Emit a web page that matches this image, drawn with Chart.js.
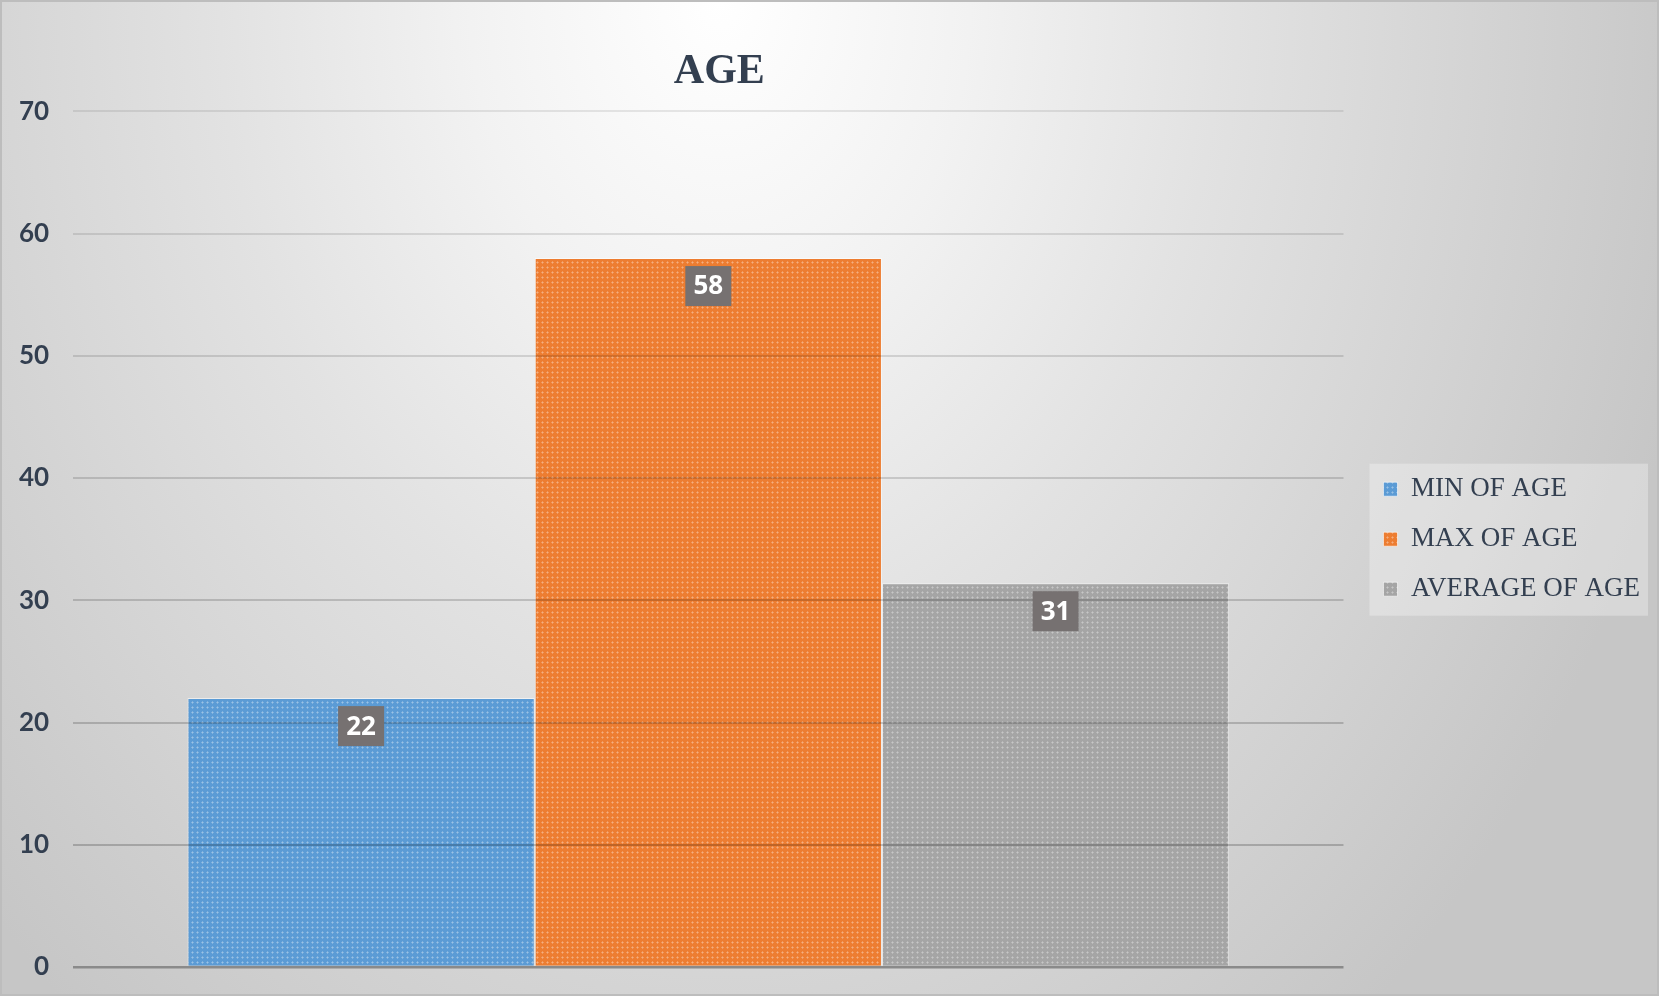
<!DOCTYPE html>
<html>
<head>
<meta charset="utf-8">
<script src="https://cdn.jsdelivr.net/npm/chart.js@4/dist/chart.umd.min.js"></script>
<style>
    html, body { margin: 0; padding: 0; background: #ffffff; }
    canvas { display: block; }
</style>
</head>
<body>
<canvas id="ageChart" width="1659" height="996"></canvas>
<script>
// data
const categories = ["AGE"];
const seriesNames = ["MIN OF AGE", "MAX OF AGE", "AVERAGE OF AGE"];
const minOfAge = [22];
const maxOfAge = [58];
const averageOfAge = [31.4];
const seriesColors = ["#5b9bd5", "#ed7d31", "#a5a5a5"];

const textColor = "#333f50";

// small dotted texture like the office fill
function makePattern(base) {
    const tile = document.createElement("canvas");
    tile.width = 5;
    tile.height = 5;
    const c = tile.getContext("2d");
    c.fillStyle = base;
    c.fillRect(0, 0, 5, 5);
    c.fillStyle = "rgba(255,255,255,0.22)";
    c.fillRect(2, 1, 1, 3);
    c.fillRect(1, 2, 3, 1);
    return c.createPattern(tile, "repeat");
}

// background, frame and legend panel
const backdrop = {
    id: "backdrop",
    beforeDraw(chart) {
        const ctx = chart.ctx;
        const w = chart.width, h = chart.height;
        ctx.save();
        ctx.translate(720, 0);
        ctx.scale(1, 1.33);
        const g = ctx.createRadialGradient(0, 0, 0, 0, 0, 1000);
        g.addColorStop(0, "#ffffff");
        g.addColorStop(0.25, "#f2f2f2");
        g.addColorStop(0.5, "#e2e2e2");
        g.addColorStop(0.75, "#d4d4d4");
        g.addColorStop(1, "#c6c6c6");
        ctx.fillStyle = g;
        ctx.fillRect(-720, 0, w, h / 1.33 + 2);
        ctx.restore();

        ctx.save();
        ctx.strokeStyle = "#bdbdbd";
        ctx.lineWidth = 2;
        ctx.strokeRect(1, 1, w - 2, h - 2);
        ctx.restore();

        const lg = chart.legend;
        if (lg && lg.legendHitBoxes && lg.legendHitBoxes.length) {
            const boxes = lg.legendHitBoxes;
            const first = boxes[0], last = boxes[boxes.length - 1];
            let right = 0;
            boxes.forEach(b => { right = Math.max(right, b.left + b.width); });
            ctx.save();
            ctx.fillStyle = "rgba(255,255,255,0.3)";
            ctx.fillRect(first.left - 14, first.top - 12, right - first.left + 22, last.top + last.height - first.top + 25);
            ctx.restore();
        }
    },
    afterLayout(chart) {
        // leave a gap between plot and legend, centre it on the plot
        const lg = chart.legend;
        lg.left += 17;
        lg.right += 17;
        lg.top = chart.chartArea.top;
        lg.bottom = chart.chartArea.bottom;
        // title sits a little right of the plot centre
        chart.titleBlock.left += 11;
        chart.titleBlock.right += 11;
    }
};

// grey value boxes near the top of each bar
const valueBoxes = {
    id: "valueBoxes",
    afterDraw(chart) {
        const ctx = chart.ctx;
        chart.data.datasets.forEach((ds, i) => {
            const meta = chart.getDatasetMeta(i);
            meta.data.forEach((bar, j) => {
                const txt = String(Math.round(ds.data[j]));
                const cx = bar.x, cy = bar.y + 28;
                ctx.save();
                ctx.fillStyle = "#767171";
                ctx.fillRect(cx - 23, cy - 20, 46, 40);
                ctx.fillStyle = "#ffffff";
                ctx.font = "bold 26px 'Open Sans'";
                ctx.textAlign = "center";
                ctx.textBaseline = "middle";
                ctx.fillText(txt, cx, cy + 1);
                ctx.restore();
            });
        });
    }
};

const seriesData = [minOfAge, maxOfAge, averageOfAge];

new Chart(document.getElementById("ageChart"), {
    type: "bar",
    data: {
        labels: categories,
        datasets: seriesNames.map((name, i) => ({
            label: name,
            data: seriesData[i],
            backgroundColor: makePattern(seriesColors[i]),
            borderColor: "rgba(255,255,255,0.55)",
            borderWidth: 1,
            categoryPercentage: 0.82,
            barPercentage: 1.0,
        })),
    },
    options: {
        responsive: false,
        animation: false,
        devicePixelRatio: 1,
        layout: {
            padding: { top: 10, left: -5, right: 26, bottom: 29 },
        },
        scales: {
            x: {
                display: false,
            },
            y: {
                min: 0,
                max: 70,
                border: { display: false },
                // tick padding is only meant sideways here
                afterFit(scale) {
                    scale.paddingTop = 15;
                    scale.paddingBottom = 15;
                },
                grid: {
                    z: 1,
                    drawTicks: false,
                    lineWidth: (c) => (c.tick && c.tick.value === 0 ? 2.5 : 2),
                    color: (c) => {
                        const v = c.tick ? c.tick.value : 0;
                        if (v === 0) return "#8a8a8a";
                        return "rgba(0,0,0," + (0.22 - v * 0.0019).toFixed(3) + ")";
                    },
                },
                ticks: {
                    stepSize: 10,
                    padding: 24,
                    color: textColor,
                    font: { family: "Lato", size: 26, weight: "bold" },
                },
            },
        },
        plugins: {
            legend: {
                position: "right",
                labels: {
                    boxWidth: 14,
                    boxHeight: 14,
                    padding: 23,
                    color: textColor,
                    font: { family: "'Liberation Serif'", size: 27 },
                },
            },
            title: {
                display: true,
                text: "AGE",
                fullSize: false,
                color: textColor,
                font: { family: "'Liberation Serif'", size: 42, weight: "bold" },
                padding: { top: 37, bottom: 14 },
            },
            tooltip: { enabled: false },
        },
    },
    plugins: [backdrop, valueBoxes],
});
</script>
</body>
</html>
